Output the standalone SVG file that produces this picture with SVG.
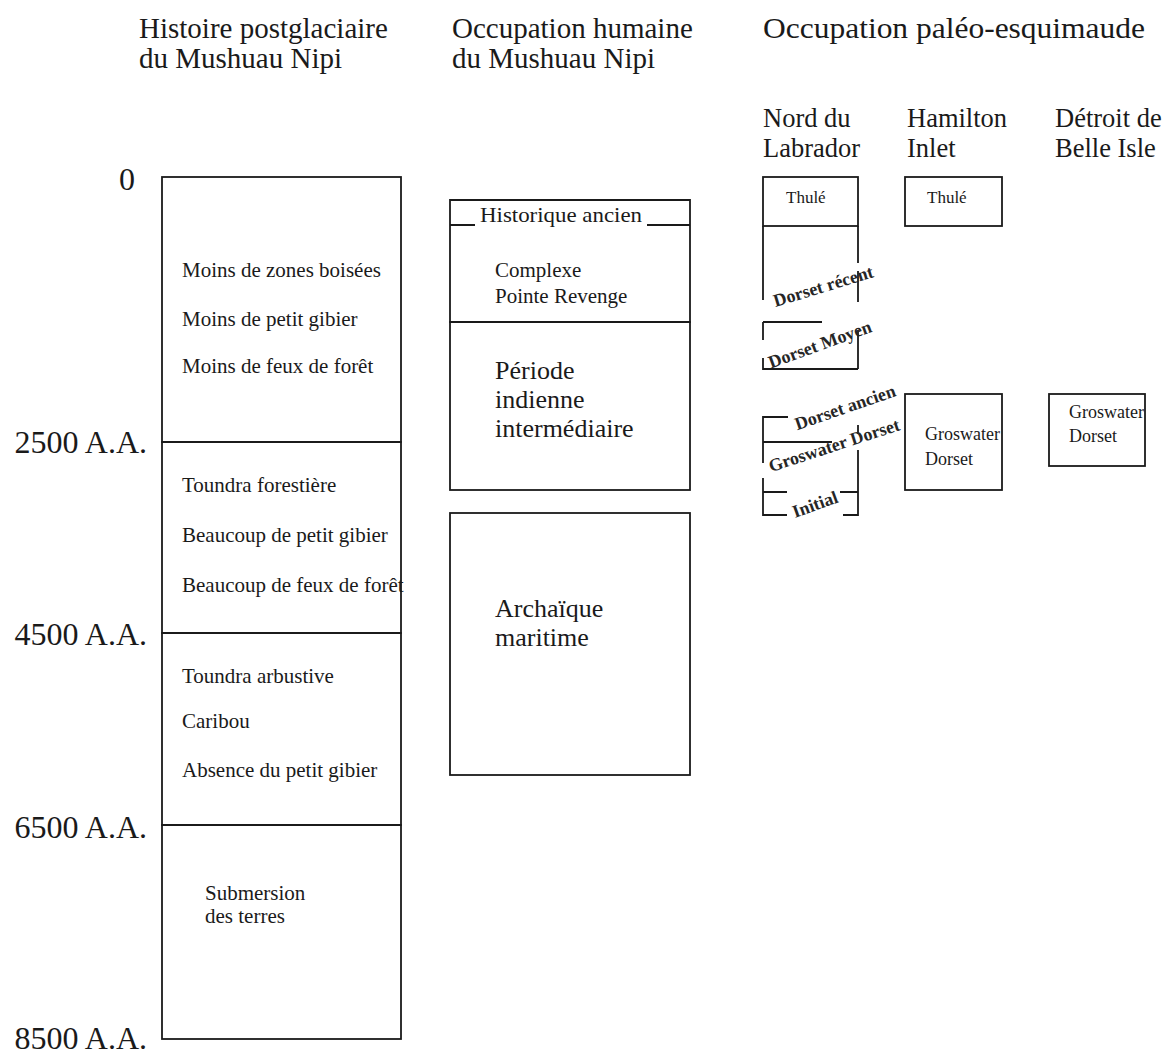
<svg xmlns="http://www.w3.org/2000/svg" width="1168" height="1057" viewBox="0 0 1168 1057">
<style>
text{font-family:"Liberation Serif","Times New Roman",serif;fill:#1a1a1a}
.title{font-size:29px}
.sub{font-size:26.5px}
.axis{font-size:32px}
.body{font-size:21px}
.big{font-size:26px}
.small{font-size:17px}
.mid{font-size:18px}
.rot{font-size:18px;font-weight:bold;fill:#262626}
.ln{stroke:#1a1a1a;stroke-width:1.8;fill:none}
</style>
<rect width="1168" height="1057" fill="#fff"/>

<g id="titles">
<text class="title" x="139" y="38">Histoire postglaciaire</text>
<text class="title" x="139" y="68">du Mushuau Nipi</text>
<text class="title" x="452" y="38">Occupation humaine</text>
<text class="title" x="452" y="68">du Mushuau Nipi</text>
<text class="title" x="763" y="38" style="font-size:30px" textLength="382" lengthAdjust="spacingAndGlyphs">Occupation paléo-esquimaude</text>
<text class="sub" x="763" y="127">Nord du</text>
<text class="sub" x="763" y="157">Labrador</text>
<text class="sub" x="907" y="127">Hamilton</text>
<text class="sub" x="907" y="157">Inlet</text>
<text class="sub" x="1055" y="127">Détroit de</text>
<text class="sub" x="1055" y="157">Belle Isle</text>
</g>

<g id="axis">
<text class="axis" x="135" y="190" text-anchor="end">0</text>
<text class="axis" x="147" y="453" text-anchor="end">2500 A.A.</text>
<text class="axis" x="147" y="645" text-anchor="end">4500 A.A.</text>
<text class="axis" x="147" y="838" text-anchor="end">6500 A.A.</text>
<text class="axis" x="147" y="1049" text-anchor="end">8500 A.A.</text>
</g>

<g id="postglaciaire-0-2500">
<rect class="ln" x="162" y="177" width="239" height="265"/>
<text class="body" x="182" y="277">Moins de zones boisées</text>
<text class="body" x="182" y="326">Moins de petit gibier</text>
<text class="body" x="182" y="373">Moins de feux de forêt</text>
</g>
<g id="postglaciaire-2500-4500">
<rect class="ln" x="162" y="442" width="239" height="191"/>
<text class="body" x="182" y="492">Toundra forestière</text>
<text class="body" x="182" y="542">Beaucoup de petit gibier</text>
<text class="body" x="182" y="592">Beaucoup de feux de forêt</text>
</g>
<g id="postglaciaire-4500-6500">
<rect class="ln" x="162" y="633" width="239" height="192"/>
<text class="body" x="182" y="683">Toundra arbustive</text>
<text class="body" x="182" y="728">Caribou</text>
<text class="body" x="182" y="777">Absence du petit gibier</text>
</g>
<g id="postglaciaire-6500-8500">
<rect class="ln" x="162" y="825" width="239" height="214"/>
<text class="body" x="205" y="900">Submersion</text>
<text class="body" x="205" y="923">des terres</text>
</g>

<g id="historique-ancien">
<path class="ln" d="M450,225 V200 H690 V225 M450,225 H475 M647,225 H690"/>
<text class="body" x="480" y="222" textLength="162" lengthAdjust="spacingAndGlyphs">Historique ancien</text>
</g>
<g id="pointe-revenge">
<path class="ln" d="M450,225 V322 H690 V225"/>
<text class="body" x="495" y="277">Complexe</text>
<text class="body" x="495" y="303">Pointe Revenge</text>
</g>
<g id="indienne-intermediaire">
<rect class="ln" x="450" y="322" width="240" height="168"/>
<text class="big" x="495" y="379">Période</text>
<text class="big" x="495" y="408">indienne</text>
<text class="big" x="495" y="437">intermédiaire</text>
</g>
<g id="archaique-maritime">
<rect class="ln" x="450" y="513" width="240" height="262"/>
<text class="big" x="495" y="617">Archaïque</text>
<text class="big" x="495" y="646">maritime</text>
</g>

<g id="nord-thule">
<rect class="ln" x="763" y="177" width="95" height="49"/>
<text class="small" x="786" y="203">Thulé</text>
</g>
<g id="nord-dorset-recent">
<path class="ln" d="M763,226 V300 M858,226 V263 M858,271 V302"/>
<text class="rot" transform="translate(825,292) rotate(-17)" text-anchor="middle">Dorset récent</text>
</g>
<g id="nord-dorset-moyen">
<path class="ln" d="M763,322 H822 M763,322 V340 M763,358 V369 H858 M858,330 V369"/>
<text class="rot" transform="translate(822,350) rotate(-20)" text-anchor="middle">Dorset Moyen</text>
</g>
<g id="nord-dorset-ancien">
<path class="ln" d="M763,442 V417 H788 M858,425 V434 M763,442 H832"/>
<text class="rot" transform="translate(847,413) rotate(-19)" text-anchor="middle">Dorset ancien</text>
</g>
<g id="nord-groswater-dorset">
<path class="ln" d="M763,442 V463 M763,478 V492 M858,450 V492"/>
<text class="rot" transform="translate(836,451) rotate(-18)" text-anchor="middle">Groswater Dorset</text>
</g>
<g id="nord-initial">
<path class="ln" d="M763,492 H787 M840,492 H858 M763,492 V515 H787 M843,515 H858 V492"/>
<text class="rot" transform="translate(817,510) rotate(-20)" text-anchor="middle">Initial</text>
</g>

<g id="hamilton-thule">
<rect class="ln" x="905" y="177" width="97" height="49"/>
<text class="small" x="927" y="203">Thulé</text>
</g>
<g id="hamilton-groswater">
<rect class="ln" x="905" y="394" width="97" height="96"/>
<text class="mid" x="925" y="440">Groswater</text>
<text class="mid" x="925" y="465">Dorset</text>
</g>
<g id="belle-isle-groswater">
<rect class="ln" x="1049" y="394" width="96" height="72"/>
<text class="mid" x="1069" y="418">Groswater</text>
<text class="mid" x="1069" y="442">Dorset</text>
</g>
</svg>
